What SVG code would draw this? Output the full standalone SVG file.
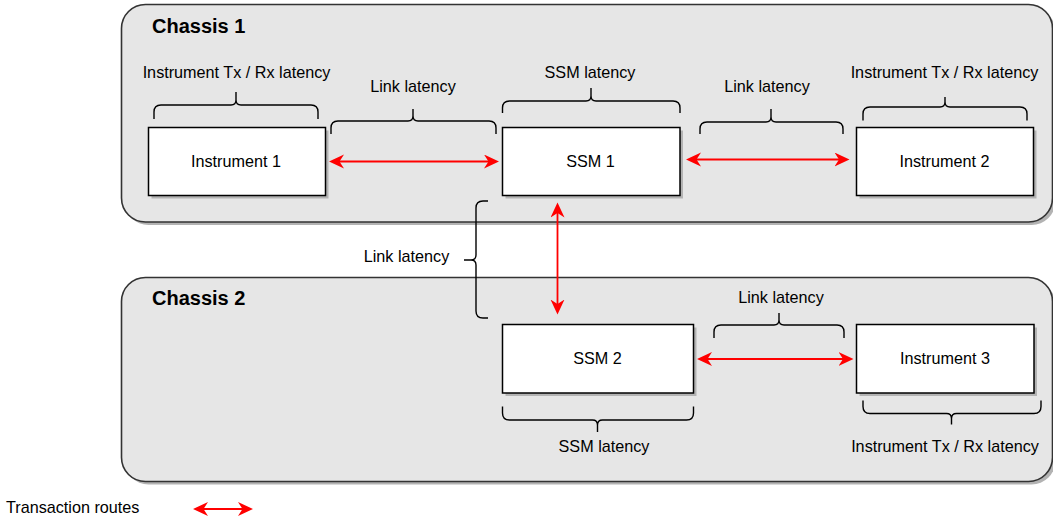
<svg xmlns="http://www.w3.org/2000/svg" width="1053" height="519" viewBox="0 0 1053 519">
<style>
.chassis{fill:#e6e6e6;stroke:#333333;stroke-width:1.6}
.cshadow{fill:#b3b3b3}
.box{fill:#ffffff;stroke:#000000;stroke-width:1.5}
.bshadow{fill:#b3b3b3}
.brace{fill:none;stroke:#000000;stroke-width:1.4}
.route{fill:none;stroke:#ff0000;stroke-width:1.8}
text{font-family:"Liberation Sans",Arial,Helvetica,sans-serif;font-size:16.2px;fill:#000000}
.title{font-weight:bold;font-size:20px}
.c{text-anchor:middle}
</style>
<defs>
<marker id="arr" markerUnits="userSpaceOnUse" markerWidth="16" markerHeight="15" refX="8" refY="7" orient="auto-start-reverse" viewBox="0 0 16 15">
<path d="M0,0 L15,7 L0,14 L4.5,7 Z" fill="#ff0000"/>
</marker>
</defs>

<g id="chassis1">
<rect class="cshadow" x="124.5" y="7.5" width="931" height="217.5" rx="24"/>
<rect class="chassis" x="121.5" y="4.5" width="931" height="217.5" rx="24"/>
<text class="title" x="152" y="33">Chassis 1</text>
</g>
<g id="chassis2">
<rect class="cshadow" x="124.5" y="280.5" width="931" height="204" rx="24"/>
<rect class="chassis" x="121.5" y="277.5" width="931" height="204" rx="24"/>
<text class="title" x="152" y="305">Chassis 2</text>
</g>

<g id="instrument1">
<rect class="bshadow" x="151.5" y="130.5" width="177" height="68"/>
<rect class="box" x="148.5" y="127.5" width="177" height="68"/>
<text class="c" x="236" y="167">Instrument 1</text>
</g>
<g id="ssm1">
<rect class="bshadow" x="505.5" y="130.5" width="177.5" height="68"/>
<rect class="box" x="502.5" y="127.5" width="177.5" height="68"/>
<text class="c" x="590.5" y="167">SSM 1</text>
</g>
<g id="instrument2">
<rect class="bshadow" x="859.5" y="130.5" width="177" height="68"/>
<rect class="box" x="856.5" y="127.5" width="177" height="68"/>
<text class="c" x="944.5" y="167">Instrument 2</text>
</g>
<g id="ssm2">
<rect class="bshadow" x="505.5" y="327.5" width="191" height="68.5"/>
<rect class="box" x="502.5" y="324.5" width="191" height="68.5"/>
<text class="c" x="597.5" y="364">SSM 2</text>
</g>
<g id="instrument3">
<rect class="bshadow" x="859.5" y="327.5" width="177.5" height="68.5"/>
<rect class="box" x="856.5" y="324.5" width="177.5" height="68.5"/>
<text class="c" x="945" y="364">Instrument 3</text>
</g>

<g id="latency-instrument1">
<path class="brace" d="M154,119 L154,112 Q154,105 161,105 L231,105 Q236,105 236,100 L236,92 M236,100 Q236,105 241,105 L311,105 Q318,105 318,112 L318,119"/>
<text class="c" x="236.5" y="78">Instrument Tx / Rx latency</text>
</g>
<g id="latency-link-left">
<path class="brace" d="M331,134 L331,128 Q331,121 338,121 L408,121 Q413,121 413,116 L413,109 M413,116 Q413,121 418,121 L489,121 Q496,121 496,128 L496,134"/>
<text class="c" x="413" y="92">Link latency</text>
</g>
<g id="latency-ssm1">
<path class="brace" d="M502.5,113 L502.5,108 Q502.5,101 509.5,101 L586,101 Q591,101 591,96 L591,88 M591,96 Q591,101 596,101 L673,101 Q680,101 680,108 L680,113"/>
<text class="c" x="590" y="78">SSM latency</text>
</g>
<g id="latency-link-right">
<path class="brace" d="M700,134 L700,129 Q700,122 707,122 L766,122 Q771,122 771,117 L771,109 M771,117 Q771,122 776,122 L836,122 Q843,122 843,129 L843,134"/>
<text class="c" x="767" y="92">Link latency</text>
</g>
<g id="latency-instrument2">
<path class="brace" d="M863,120.5 L863,114 Q863,107 870,107 L940,107 Q945,107 945,102 L945,97 M945,102 Q945,107 950,107 L1020,107 Q1027,107 1027,114 L1027,120.5"/>
<text class="c" x="944.5" y="78">Instrument Tx / Rx latency</text>
</g>
<g id="latency-link-vertical">
<path class="brace" d="M488,201 L483,201 Q476,201 476,208 L476,255 Q476,260 471,260 L464,260 M471,260 Q476,260 476,265 L476,311 Q476,318 483,318 L488,318"/>
<text class="c" x="406.5" y="262">Link latency</text>
</g>
<g id="latency-link-bottom">
<path class="brace" d="M714,338 L714,332 Q714,325 721,325 L774,325 Q779,325 779,320 L779,313 M779,320 Q779,325 784,325 L837,325 Q844,325 844,332 L844,338"/>
<text class="c" x="781" y="303">Link latency</text>
</g>
<g id="latency-ssm2">
<path class="brace" d="M502.5,406.5 L502.5,413 Q502.5,420 509.5,420 L592.5,420 Q597.5,420 597.5,425 L597.5,432 M597.5,425 Q597.5,420 602.5,420 L686.5,420 Q693.5,420 693.5,413 L693.5,406.5"/>
<text class="c" x="604" y="452">SSM latency</text>
</g>
<g id="latency-instrument3">
<path class="brace" d="M863,400.5 L863,406.5 Q863,413.5 870,413.5 L946.5,413.5 Q951.5,413.5 951.5,418.5 L951.5,424.5 M951.5,418.5 Q951.5,413.5 956.5,413.5 L1034,413.5 Q1041,413.5 1041,406.5 L1041,400.5"/>
<text class="c" x="945" y="452">Instrument Tx / Rx latency</text>
</g>

<g id="connectors">
<path class="route" d="M336,161.5 L492,161.5" marker-start="url(#arr)" marker-end="url(#arr)"/>
<path class="route" d="M693,159.5 L842.5,159.5" marker-start="url(#arr)" marker-end="url(#arr)"/>
<path class="route" d="M557.5,209.5 L557.5,307.5" marker-start="url(#arr)" marker-end="url(#arr)"/>
<path class="route" d="M704,359 L846.5,359" marker-start="url(#arr)" marker-end="url(#arr)"/>
</g>

<g id="legend">
<text x="6" y="513">Transaction routes</text>
<path class="route" d="M200,509 L246,509" marker-start="url(#arr)" marker-end="url(#arr)"/>
</g>
</svg>
